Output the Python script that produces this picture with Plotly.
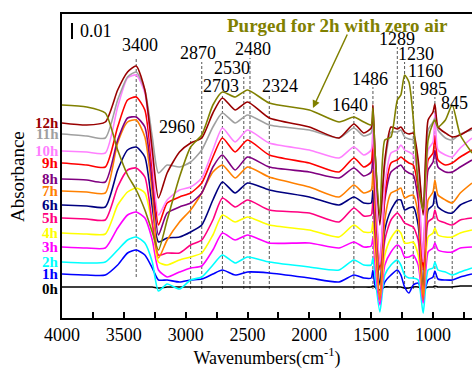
import plotly.graph_objects as go

# ---------------- data ----------------
wavenumber = [4000, 3800, 3650, 3550, 3470, 3400, 3330, 3270, 3220, 3150,
              3050, 2960, 2870, 2780, 2703, 2600, 2500, 2324, 2000, 1760,
              1640, 1560, 1500, 1486, 1470, 1430, 1390, 1340, 1289, 1260,
              1230, 1195, 1160, 1120, 1080, 1040, 1000, 985, 960, 900,
              845, 780, 685]

# absorbance (arbitrary offset units, 16 units = 0.01)
a0h = [0, 0, 0, 0, 0, 0, 0, 0, -1, 0,
       0, 0, 0, 0, 0, 0, 0, 0, 0, 0,
       0, 0, 0, 1, 0, -3, 0, 0, 0, 0,
       -1, -1, 0, 0, -2, 0, 0, 1, 0, 0,
       0, 1, 1]
a1h = [13, 12, 12, 22, 34, 37, 32, 19, 7, 7,
       5, 7, 8, 13, 17, 12, 15, 14, 9, 5,
       12, 9, 9, 17, 2, -8, 5, 12, 17, 12,
       0, -6, 2, 4, -8, 7, 10, 16, 8, 7,
       7, 10, 13]
a2h = [25, 24, 25, 37, 47, 50, 44, 25, -4, 3,
       -2, 7, 10, 22, 32, 24, 30, 25, 20, 17,
       27, 22, 22, 29, 12, -25, 12, 22, 27, 22,
       12, 9, 9, 7, -26, 17, 19, 25, 17, 15,
       12, 15, 19]
a3h = [40, 39, 39, 59, 72, 75, 69, 47, 17, 10,
       15, 19, 21, 37, 54, 47, 52, 44, 44, 39,
       45, 40, 41, 49, 25, -18, 22, 35, 42, 39,
       30, 30, 32, 22, -16, 35, 39, 44, 37, 35,
       35, 39, 40]
a4h = [54, 53, 53, 82, 95, 99, 94, 62, 25, 22,
       27, 30, 34, 52, 72, 65, 70, 62, 57, 50,
       62, 55, 55, 65, 37, -13, 32, 49, 57, 54,
       44, 44, 45, 32, -13, 50, 54, 59, 52, 50,
       50, 54, 57]
a5h = [69, 68, 67, 100, 117, 119, 110, 64, 32, 34,
       34, 42, 47, 67, 89, 80, 87, 77, 74, 65,
       79, 71, 72, 87, 52, -13, 47, 67, 74, 70,
       64, 62, 60, 47, -13, 65, 69, 77, 67, 64,
       62, 67, 69]
a6h = [82, 81, 80, 117, 137, 140, 130, 80, 45, 49,
       50, 55, 62, 87, 105, 94, 104, 97, 90, 82,
       90, 84, 84, 97, 67, 2, 57, 77, 87, 87,
       77, 79, 80, 62, -3, 77, 82, 95, 80, 75,
       74, 82, 87]
a7h = [96, 95, 94, 144, 165, 167, 150, 94, 29, 47,
       65, 77, 94, 115, 122, 109, 120, 110, 100, 90,
       102, 94, 97, 117, 77, -13, 67, 94, 97, 99,
       89, 91, 92, 72, -11, 87, 95, 107, 92, 87,
       84, 94, 104]
a8h = [108, 107, 105, 147, 169, 170, 160, 104, 52, 74,
       80, 84, 94, 120, 132, 117, 130, 120, 115, 109,
       119, 111, 115, 142, 97, 22, 87, 115, 120, 122,
       117, 114, 112, 87, 25, 117, 125, 137, 120, 115,
       115, 120, 127]
a9h = [124, 122, 120, 160, 187, 190, 177, 117, 62, 84,
       90, 94, 104, 130, 149, 135, 147, 132, 124, 115,
       129, 120, 125, 157, 107, 17, 92, 124, 127, 130,
       127, 124, 122, 97, 17, 127, 134, 152, 127, 122,
       124, 130, 137]
a10h = [136, 135, 134, 180, 209, 212, 194, 127, 72, 87,
        97, 100, 109, 137, 159, 145, 157, 144, 137, 129,
        140, 132, 137, 177, 117, 22, 102, 134, 137, 142,
        137, 135, 132, 107, 25, 137, 145, 174, 137, 132,
        130, 139, 149]
a11h = [153, 151, 149, 187, 210, 215, 197, 150, 114, 122,
        120, 125, 137, 160, 174, 164, 172, 162, 157, 149,
        159, 151, 154, 169, 137, 69, 122, 155, 155, 157,
        150, 148, 147, 122, 75, 157, 165, 169, 157, 149,
        147, 153, 157]
a12h = [164, 162, 165, 197, 215, 221, 197, 137, 89, 114,
        135, 144, 149, 174, 189, 177, 185, 169, 160, 149,
        163, 154, 159, 182, 137, 62, 127, 160, 158, 160,
        155, 153, 154, 127, 72, 167, 175, 183, 160, 154,
        150, 152, 159]
purged = [182, 180, 174, 137, 112, 97, 77, 55, 37, 67,
          110, 140, 152, 182, 195, 190, 197, 184, 177, 165,
          170, 165, 162, 179, 137, 72, 147, 150, 187, 192,
          212, 205, 169, 102, 77, 147, 164, 167, 160, 167,
          182, 152, 134]

series_labels = ["0h", "1h", "2h", "3h", "4h", "5h", "6h", "7h", "8h", "9h", "10h", "11h", "12h"]
series_values = [a0h, a1h, a2h, a3h, a4h, a5h, a6h, a7h, a8h, a9h, a10h, a11h, a12h]

peak_labels = ["3400", "2960", "2870", "2703", "2530", "2480", "2324",
               "1640", "1486", "1289", "1230", "1160", "985", "845"]
peak_wn = [3400, 2960, 2870, 2703, 2530, 2480, 2324, 1640, 1486, 1289, 1230, 1160, 985, 845]

x_ticks = [4000, 3500, 3000, 2500, 2000, 1500, 1000]

# ---------------- styling / layout helpers ----------------
colors = ["#000000", "#0000FF", "#00FFFF", "#FF00FF", "#FFFF00", "#FF0080", "#000080",
          "#FF8000", "#800080", "#FF0000", "#FF80FF", "#A0A0A0", "#990000"]
olive = "#808000"
serif = "Liberation Serif, Times New Roman, serif"

# label placement (text center x, text center y, dashed line top, dashed line bottom)
lab_x = [3369, 3070, 2900, 2715, 2626, 2456, 2238, 1672, 1510, 1292, 1138, 1065, 1000, 823]
lab_y = [242, 160, 234, 201, 219, 238, 201, 182, 208, 248, 233, 216, 198, 184]
line_top = [229, 149, 225, 192, 210, 229, 192, 174, 200, 240, 225, 208, 190, 177]
line_bot = [10, -2, -2, -2, -2, -2, -2, -2, -2, -2, -2, -2, -2, -2]

fig = go.Figure()

for name, vals, col in zip(series_labels, series_values, colors):
    fig.add_trace(go.Scatter(x=wavenumber, y=vals, mode="lines", name=name,
                             line=dict(color=col, width=1.6, shape="spline", smoothing=0.6),
                             showlegend=False, hoverinfo="skip"))
fig.add_trace(go.Scatter(x=wavenumber, y=purged, mode="lines", name="purged",
                         line=dict(color=olive, width=1.6, shape="spline", smoothing=0.6),
                         showlegend=False, hoverinfo="skip"))

shapes = []
annotations = []
for lbl, wn, lx, ly, lt, lb in zip(peak_labels, peak_wn, lab_x, lab_y, line_top, line_bot):
    shapes.append(dict(type="line", xref="x", yref="y", x0=wn, x1=wn, y0=lb, y1=lt,
                       line=dict(color="#555555", width=1, dash="3px,2px"), layer="below"))
    annotations.append(dict(x=lx, y=ly, xref="x", yref="y", text=lbl, showarrow=False,
                            font=dict(family=serif, size=18, color="black")))

for lbl, vals, col in zip(series_labels, series_values, colors):
    annotations.append(dict(x=0, y=vals[0], xref="paper", yref="y", text="<b>" + lbl + "</b>",
                            showarrow=False, xanchor="right", xshift=-1,
                            yshift=-2 if lbl == "0h" else 0,
                            font=dict(family=serif, size=15, color=col)))

# scale bar 0.01
shapes.append(dict(type="line", xref="x", yref="y", x0=3919, x1=3919, y0=248, y1=264,
                   line=dict(color="black", width=2)))
annotations.append(dict(x=3725, y=256, xref="x", yref="y", text="0.01", showarrow=False,
                        font=dict(family=serif, size=18, color="black")))

# purged annotation
annotations.append(dict(x=1769, y=262, xref="x", yref="y", text="<b>Purged for 2h with zero air</b>",
                        showarrow=False, font=dict(family=serif, size=19, color=olive)))
annotations.append(dict(x=1971, y=179, xref="x", yref="y", ax=1688, ay=254, axref="x", ayref="y",
                        text="", showarrow=True, arrowhead=2, arrowsize=1, arrowwidth=1.5,
                        arrowcolor=olive))

annotations.append(dict(x=-44 / 410, y=(318 - 177) / 304, xref="paper", yref="paper",
                        text="Absorbance", textangle=-90, showarrow=False,
                        xanchor="center", yanchor="middle",
                        font=dict(family=serif, size=19, color="black")))

fig.update_layout(
    width=472, height=370,
    margin=dict(l=62, r=0, t=14, b=52),
    plot_bgcolor="white", paper_bgcolor="white",
    shapes=shapes, annotations=annotations,
    font=dict(family=serif, size=18, color="black"),
)
fig.update_xaxes(range=[4000, 685], tickvals=x_ticks, ticks="inside", ticklen=6, tickwidth=1.5,
                 tickcolor="black", showline=True, linecolor="black", linewidth=1.5, mirror=True,
                 showgrid=False, zeroline=False,
                 minor=dict(dtick=250, ticks="inside", ticklen=6, tickwidth=1.5, tickcolor="black", showgrid=False),
                 tickfont=dict(family=serif, size=18, color="black"),
                 title=dict(text="Wavenumbers(cm<sup>-1</sup>)", font=dict(family=serif, size=18, color="black"),
                            standoff=4))
fig.update_yaxes(range=[-31, 273], showticklabels=False, ticks="", showline=True, linecolor="black",
                 linewidth=1.5, mirror=False, showgrid=False, zeroline=False)

fig.write_html("out.html", config={"displayModeBar": False},
               post_script="document.body.style.margin='0px';")
